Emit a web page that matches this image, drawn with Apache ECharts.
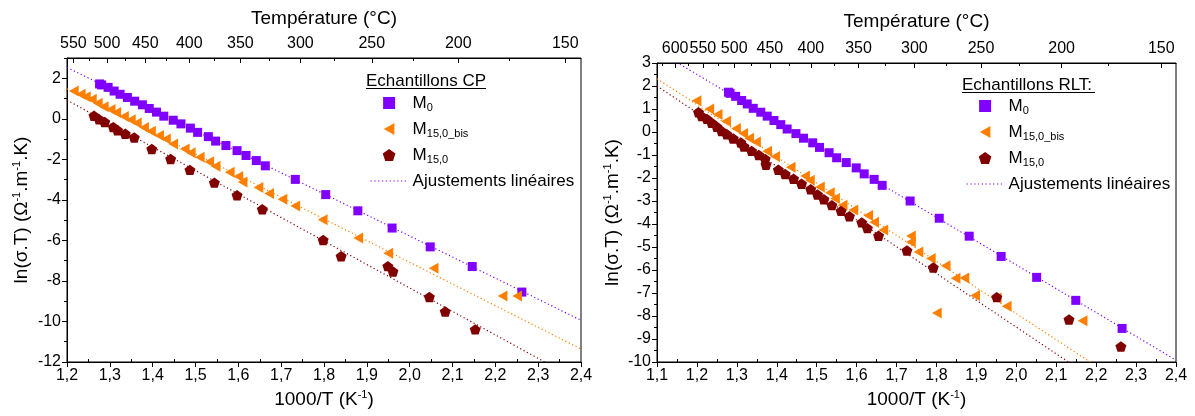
<!DOCTYPE html>
<html><head><meta charset="utf-8">
<script src="https://cdn.jsdelivr.net/npm/echarts@6/dist/echarts.min.js"></script>
<style>html,body{margin:0;padding:0;background:#fff}#c{width:1195px;height:416px}</style>
</head><body><div id="c"></div>
<script>
// ---------- data: Echantillons CP (left) ----------
const cpM0_x = [1.276, 1.281, 1.296, 1.310, 1.324, 1.341, 1.358, 1.376, 1.392, 1.409, 1.426, 1.448, 1.466, 1.488, 1.505, 1.530, 1.547, 1.571, 1.597, 1.618, 1.642, 1.663, 1.733, 1.804, 1.879, 1.959, 2.048, 2.146, 2.262];
const cpM0_y = [1.72, 1.67, 1.55, 1.37, 1.21, 1.05, 0.87, 0.69, 0.51, 0.33, 0.13, -0.07, -0.25, -0.46, -0.67, -0.88, -1.10, -1.32, -1.57, -1.81, -2.06, -2.32, -2.99, -3.74, -4.54, -5.39, -6.32, -7.29, -8.55];
const cpBis_x = [1.216, 1.232, 1.244, 1.258, 1.272, 1.286, 1.302, 1.315, 1.333, 1.349, 1.363, 1.380, 1.396, 1.415, 1.431, 1.448, 1.475, 1.489, 1.510, 1.532, 1.547, 1.580, 1.600, 1.610, 1.647, 1.672, 1.703, 1.733, 1.797, 1.880, 1.950, 2.056, 2.217, 2.251];
const cpBis_y = [1.37, 1.21, 1.09, 0.97, 0.77, 0.60, 0.46, 0.31, 0.11, -0.05, -0.21, -0.43, -0.62, -0.83, -1.00, -1.24, -1.49, -1.68, -1.90, -2.12, -2.34, -2.64, -2.85, -3.12, -3.39, -3.69, -3.97, -4.30, -4.98, -5.88, -6.63, -7.37, -8.74, -8.74];
const cpM150_x = [1.263, 1.275, 1.288, 1.308, 1.318, 1.336, 1.357, 1.398, 1.442, 1.487, 1.544, 1.597, 1.656, 1.798, 1.840, 1.949, 1.961, 2.046, 2.083, 2.153];
const cpM150_y = [0.15, -0.02, -0.16, -0.41, -0.56, -0.74, -0.92, -1.49, -1.98, -2.52, -3.15, -3.77, -4.46, -5.98, -6.78, -7.27, -7.53, -8.79, -9.51, -10.39];
const cpFitM0 = [[1.2, 2.53], [2.4, -9.94]];
const cpFitBis = [[1.2, 1.48], [2.4, -11.36]];
const cpFitM150 = [[1.2, 0.92], [2.4, -12.98]];

// ---------- data: Echantillons RLT (right) ----------
const rltM0_x = [1.279, 1.283, 1.297, 1.312, 1.326, 1.341, 1.360, 1.376, 1.393, 1.410, 1.426, 1.448, 1.467, 1.490, 1.507, 1.531, 1.550, 1.574, 1.599, 1.619, 1.644, 1.664, 1.734, 1.807, 1.882, 1.962, 2.051, 2.149, 2.265];
const rltM0_y = [1.73, 1.68, 1.55, 1.37, 1.22, 1.03, 0.86, 0.69, 0.50, 0.32, 0.13, -0.07, -0.27, -0.47, -0.67, -0.90, -1.12, -1.33, -1.56, -1.82, -2.06, -2.32, -3.00, -3.75, -4.53, -5.41, -6.32, -7.32, -8.54];
const rltBis_x = [1.199, 1.231, 1.252, 1.273, 1.298, 1.316, 1.331, 1.348, 1.376, 1.396, 1.435, 1.471, 1.483, 1.508, 1.533, 1.546, 1.565, 1.592, 1.629, 1.644, 1.667, 1.736, 1.736, 1.755, 1.786, 1.823, 1.848, 1.870, 1.897, 1.951, 1.976, 1.801, 2.166];
const rltBis_y = [1.36, 1.00, 0.76, 0.47, 0.15, -0.06, -0.27, -0.43, -0.84, -1.06, -1.53, -1.91, -2.10, -2.39, -2.64, -2.89, -3.18, -3.39, -3.63, -3.92, -4.26, -4.52, -4.78, -5.22, -5.50, -5.82, -6.36, -6.35, -7.11, -7.22, -7.58, -7.87, -8.21];
const rltM150_x = [1.204, 1.212, 1.225, 1.237, 1.250, 1.262, 1.275, 1.291, 1.310, 1.318, 1.337, 1.355, 1.371, 1.373, 1.404, 1.421, 1.442, 1.462, 1.485, 1.502, 1.518, 1.538, 1.561, 1.582, 1.613, 1.627, 1.655, 1.726, 1.792, 1.951, 2.132, 2.262];
const rltM150_y = [0.86, 0.69, 0.57, 0.40, 0.23, 0.04, -0.10, -0.28, -0.46, -0.63, -0.82, -1.00, -1.17, -1.42, -1.64, -1.83, -2.03, -2.25, -2.49, -2.72, -2.92, -3.18, -3.43, -3.66, -3.93, -4.18, -4.51, -5.15, -5.89, -7.18, -8.15, -9.33];
const rltFitM0 = [[1.1, 3.54], [2.4, -9.92]];
const rltFitBis = [[1.1, 2.32], [2.4, -12.44]];
const rltFitM150 = [[1.1, 2.00], [2.4, -13.14]];

// ---------- tick labels ----------
const tempMajor = [600, 550, 500, 450, 400, 350, 300, 250, 200, 150];
const tempMinor = [625, 575, 525, 475, 425, 375, 325, 275, 225, 175];
const legendNames = ['M0', 'M15,0_bis', 'M15,0', 'Ajustements linéaires'];

const FONT = 'Liberation Sans, Arial, sans-serif';
const C_M0 = '#8000FF', C_BIS = '#FF8000', C_M150 = '#800000';
const SQUARE = 'path://M0,0 L10,0 L10,10 L0,10 Z';
const TRI_LEFT = 'path://M0,50 L88,0 L88,100 Z';
const PENTA = 'path://M50,0 L97.55,34.55 L79.39,90.45 L20.61,90.45 L2.45,34.55 Z';

const inv = T => 1000 / (T + 273.15);
const zip = (xs, ys) => xs.map((x, i) => [x, ys[i]]);
const fmtDec = v => (Math.round(v * 10) / 10).toFixed(1).replace('.', ',');

function bottomAxis(g, min) {
  return {
    type: 'value', gridIndex: g, position: 'bottom', min: min, max: 2.4, interval: 0.1,
    axisLine: {show: true, onZero: false, lineStyle: {color: '#000', width: 1}},
    axisTick: {show: true, inside: false, length: 5, lineStyle: {color: '#000'}},
    splitLine: {show: false},
    axisLabel: {fontSize: 16, color: '#000', fontFamily: FONT, margin: 6, formatter: fmtDec},
    name: '1000/T (K{sup|-1})', nameLocation: 'middle', nameGap: 27,
    nameTextStyle: {fontSize: 19, color: '#000', fontFamily: FONT, lineHeight: 22,
      rich: {sup: {fontSize: 11, lineHeight: 11, verticalAlign: 'top', fontFamily: FONT, color: '#000'}}}
  };
}
function bottomMinorAxis(g, min) {
  const vals = [];
  for (let k = Math.round(min * 20) + 1; k < 48; k += 2) vals.push(k / 20);
  return {
    type: 'value', gridIndex: g, position: 'bottom', min: min, max: 2.4,
    axisLine: {show: false, onZero: false}, splitLine: {show: false},
    axisTick: {show: true, inside: true, length: 3, customValues: vals, lineStyle: {color: '#000'}},
    axisLabel: {show: false}
  };
}
function topAxis(g, min, gap) {
  const vals = tempMajor.map(inv).filter(v => v >= min && v <= 2.4);
  return {
    type: 'value', gridIndex: g, position: 'top', min: min, max: 2.4,
    axisLine: {show: true, onZero: false, lineStyle: {color: '#000', width: 1}},
    axisTick: {show: true, inside: true, length: 5, customValues: vals, lineStyle: {color: '#000'}},
    splitLine: {show: false},
    axisLabel: {customValues: vals, fontSize: 16, color: '#000', fontFamily: FONT, margin: 6,
      formatter: v => String(Math.round(1000 / v - 273.15))},
    name: 'Température (°C)', nameLocation: 'middle', nameGap: gap,
    nameTextStyle: {fontSize: 19, color: '#000', fontFamily: FONT}
  };
}
function topMinorAxis(g, min) {
  const vals = tempMinor.map(inv).filter(v => v >= min && v <= 2.4);
  return {
    type: 'value', gridIndex: g, position: 'top', min: min, max: 2.4,
    axisLine: {show: false, onZero: false}, splitLine: {show: false},
    axisTick: {show: true, inside: true, length: 3, customValues: vals, lineStyle: {color: '#000'}},
    axisLabel: {show: false}
  };
}
const yName = 'ln(σ.T) (Ω{sup|-1}.m{sup|-1}.K)';
const yNameStyle = {fontSize: 19, color: '#000', fontFamily: FONT, lineHeight: 22,
  rich: {sup: {fontSize: 11, lineHeight: 11, verticalAlign: 'top', fontFamily: FONT, color: '#000'}}};

function scatter(name, xs, ys, xi, yi, symbol, size, color) {
  return {type: 'scatter', name: name, xAxisIndex: xi, yAxisIndex: yi, data: zip(xs, ys),
    symbol: symbol, symbolSize: size, symbolKeepAspect: true,
    itemStyle: {color: color, opacity: 1}, z: 3, silent: true};
}
function fit(name, pts, xi, yi, color) {
  return {type: 'line', name: name, xAxisIndex: xi, yAxisIndex: yi, data: pts,
    symbol: 'none', showSymbol: false, clip: true, silent: true, z: 2,
    itemStyle: {color: color},
    lineStyle: {color: color, width: 1.2, type: [1.2, 2.6]}};
}
function legendFmt(n) {
  if (n === 'M0') return 'M{sub|0}';
  if (n === 'M15,0_bis') return 'M{sub|15,0_bis}';
  if (n === 'M15,0') return 'M{sub|15,0}';
  return n;
}
function legend(left, top) {
  return {
    left: left, top: top, orient: 'vertical', itemWidth: 37, itemHeight: 12, itemGap: 6,
    symbolKeepAspect: true,
    selectedMode: false,
    data: [
      {name: legendNames[0]},
      {name: legendNames[1]},
      {name: legendNames[2]},
      {name: legendNames[3], itemStyle: {opacity: 0}}
    ],
    formatter: legendFmt,
    lineStyle: {width: 1.2, type: [1.2, 2.6], opacity: 1},
    textStyle: {fontSize: 17, color: '#000', fontFamily: FONT, lineHeight: 20,
      rich: {sub: {fontSize: 11, lineHeight: 11, verticalAlign: 'bottom', fontFamily: FONT, color: '#000'}}}
  };
}

const yMinorL = [];
for (let v = -11; v <= 3; v += 2) yMinorL.push(v);

const option = {
  animation: false,
  backgroundColor: '#fff',
  grid: [
    {left: 67, top: 58, width: 514, height: 305, show: true, borderColor: '#000', borderWidth: 1, backgroundColor: 'transparent'},
    {left: 657, top: 63, width: 519, height: 303, show: true, borderColor: '#000', borderWidth: 1, backgroundColor: 'transparent'}
  ],
  xAxis: [
    bottomAxis(0, 1.2), topAxis(0, 1.2, 30), topMinorAxis(0, 1.2), bottomMinorAxis(0, 1.2),
    bottomAxis(1, 1.1), topAxis(1, 1.1, 32), topMinorAxis(1, 1.1), bottomMinorAxis(1, 1.1)
  ],
  yAxis: [
    {type: 'value', gridIndex: 0, position: 'left', min: -12, max: 3, interval: 2,
      axisLine: {show: true, onZero: false, lineStyle: {color: '#000', width: 1}},
      axisTick: {show: true, length: 5, lineStyle: {color: '#000'}},
      splitLine: {show: false},
      axisLabel: {showMaxLabel: false, fontSize: 16, color: '#000', fontFamily: FONT, margin: 6},
      name: yName, nameLocation: 'middle', nameGap: 34, nameRotate: 90, nameTextStyle: yNameStyle},
    {type: 'value', gridIndex: 0, position: 'left', min: -12, max: 3,
      axisLine: {show: false, onZero: false}, splitLine: {show: false}, axisLabel: {show: false},
      axisTick: {show: true, length: 3, customValues: yMinorL, lineStyle: {color: '#000'}}},
    {type: 'value', gridIndex: 1, position: 'left', min: -10, max: 3, interval: 1,
      axisLine: {show: true, onZero: false, lineStyle: {color: '#000', width: 1}},
      axisTick: {show: true, length: 5, lineStyle: {color: '#000'}},
      minorTick: {show: true, splitNumber: 2, length: 3, lineStyle: {color: '#000'}},
      splitLine: {show: false}, minorSplitLine: {show: false},
      axisLabel: {fontSize: 16, color: '#000', fontFamily: FONT, margin: 6},
      name: yName, nameLocation: 'middle', nameGap: 22, nameRotate: 90, nameTextStyle: yNameStyle}
  ],
  legend: [legend(365, 88), legend(961, 91)],
  graphic: [
    {type: 'text', left: 366, top: 73, style: {text: 'Echantillons CP', fontSize: 17, fontFamily: FONT, fill: '#000'}},
    {type: 'line', shape: {x1: 366, y1: 88.5, x2: 486, y2: 88.5}, style: {stroke: '#000', lineWidth: 1}},
    {type: 'text', left: 962, top: 77, style: {text: 'Echantillons RLT:', fontSize: 17, fontFamily: FONT, fill: '#000'}},
    {type: 'line', shape: {x1: 962, y1: 92.5, x2: 1095, y2: 92.5}, style: {stroke: '#000', lineWidth: 1}}
  ],
  series: [
    fit('Ajustements linéaires', cpFitM0, 0, 0, C_M0),
    fit('fitCPbis', cpFitBis, 0, 0, C_BIS),
    fit('fitCP150', cpFitM150, 0, 0, C_M150),
    scatter('M0', cpM0_x, cpM0_y, 0, 0, SQUARE, 9, C_M0),
    scatter('M15,0_bis', cpBis_x, cpBis_y, 0, 0, TRI_LEFT, 11, C_BIS),
    scatter('M15,0', cpM150_x, cpM150_y, 0, 0, PENTA, 11, C_M150),
    fit('Ajustements linéaires', rltFitM0, 4, 2, C_M0),
    fit('fitRLTbis', rltFitBis, 4, 2, C_BIS),
    fit('fitRLT150', rltFitM150, 4, 2, C_M150),
    scatter('M0', rltM0_x, rltM0_y, 4, 2, SQUARE, 9, C_M0),
    scatter('M15,0_bis', rltBis_x, rltBis_y, 4, 2, TRI_LEFT, 11, C_BIS),
    scatter('M15,0', rltM150_x, rltM150_y, 4, 2, PENTA, 11, C_M150)
  ]
};
const chart = echarts.init(document.getElementById('c'), null, {renderer: 'canvas'});
chart.setOption(option);
</script>
</body></html>
